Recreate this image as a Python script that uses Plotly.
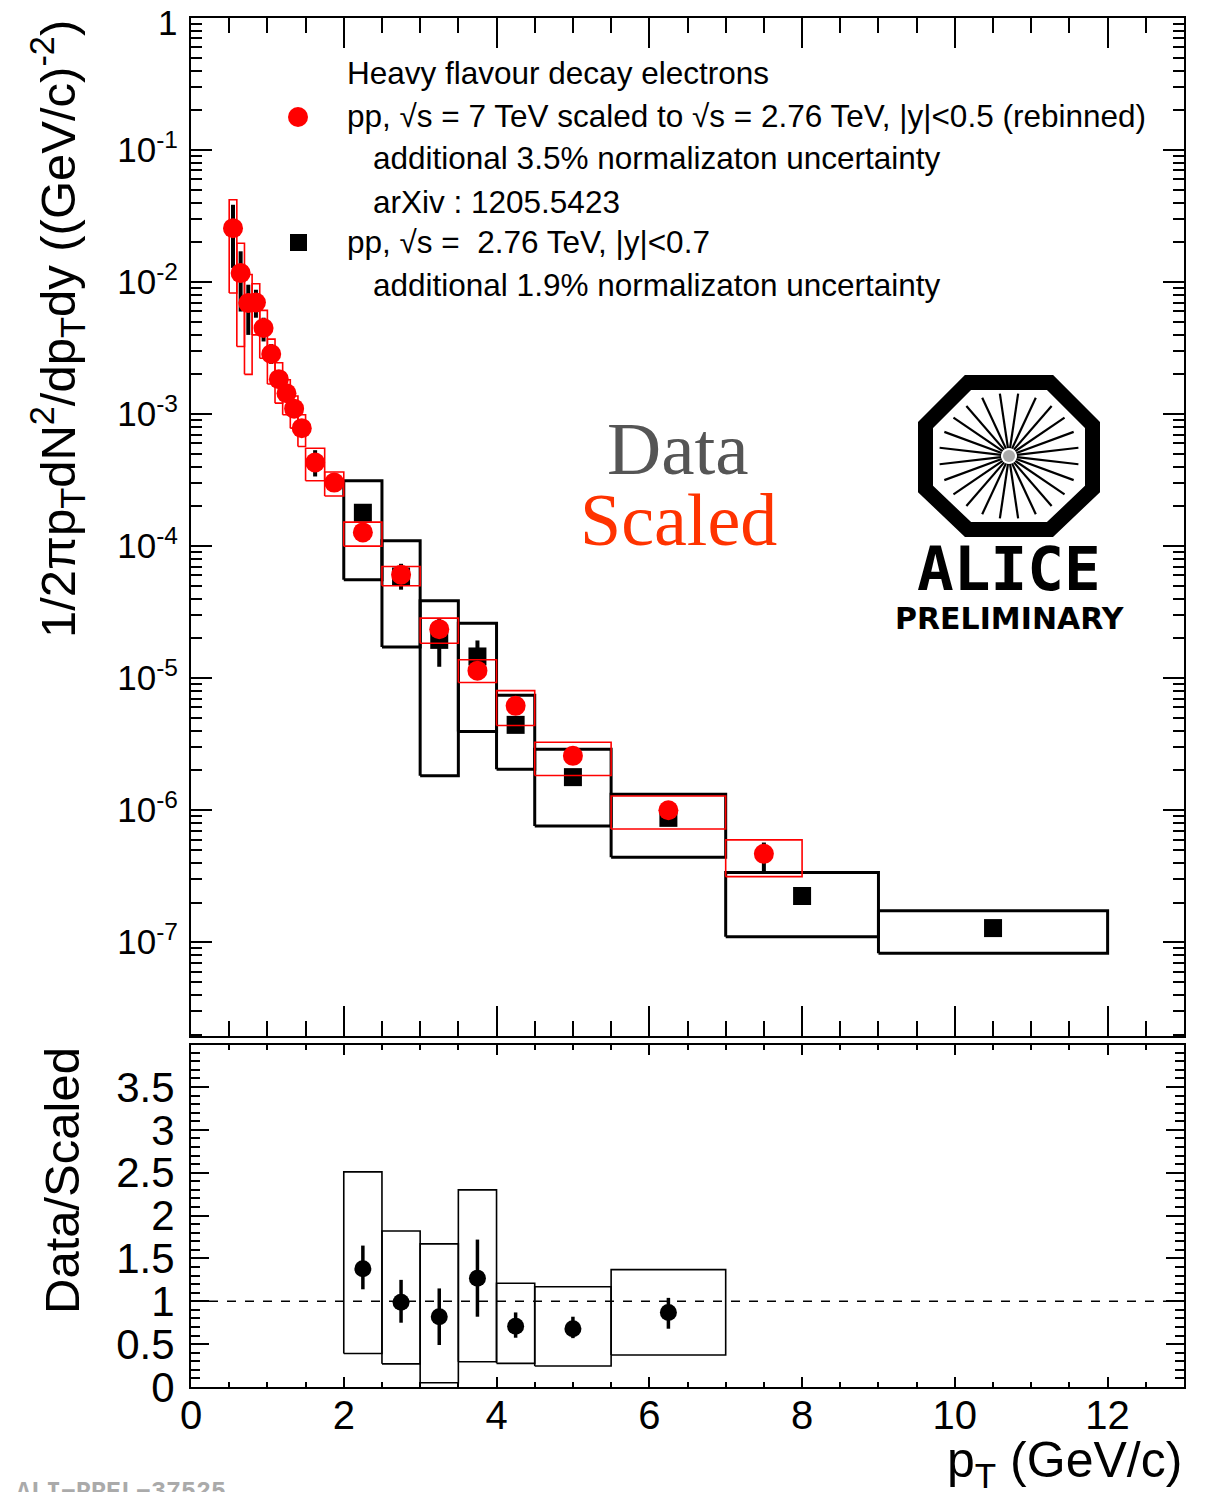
import math
import plotly.graph_objects as go

# ---------------- pp, sqrt(s) = 2.76 TeV, |y|<0.7 (black squares) ----------------
data_lo = [2.0, 2.5, 3.0, 3.5, 4.0, 4.5, 5.5, 7.0, 9.0]
data_hi = [2.5, 3.0, 3.5, 4.0, 4.5, 5.5, 7.0, 9.0, 12.0]
data_val = [1.79e-4, 5.89e-5, 1.95e-5, 1.46e-5, 4.43e-6, 1.78e-6, 8.75e-7, 2.24e-7, 1.28e-7]
data_stat_up = [1.95e-4, 7.35e-5, 2.80e-5, 1.93e-5, 5.0e-6, 1.95e-6, 9.6e-7, 2.4e-7, 1.38e-7]
data_stat_dn = [1.63e-4, 4.68e-5, 1.22e-5, 1.10e-5, 3.9e-6, 1.62e-6, 8.0e-7, 2.05e-7, 1.18e-7]
data_sys_up = [3.13e-4, 1.10e-4, 3.85e-5, 2.61e-5, 7.41e-6, 2.90e-6, 1.32e-6, 3.37e-7, 1.73e-7]
data_sys_dn = [5.56e-5, 1.72e-5, 1.82e-6, 3.94e-6, 2.04e-6, 7.59e-7, 4.41e-7, 1.10e-7, 8.26e-8]

# ------- pp, sqrt(s) = 7 TeV scaled to 2.76 TeV, |y|<0.5, rebinned (red circles) -------
ref_lo = [0.5, 0.6, 0.7, 0.8, 0.9, 1.0, 1.1, 1.2, 1.3, 1.4, 1.5, 1.75,
          2.0, 2.5, 3.0, 3.5, 4.0, 4.5, 5.5, 7.0]
ref_hi = [0.6, 0.7, 0.8, 0.9, 1.0, 1.1, 1.2, 1.3, 1.4, 1.5, 1.75, 2.0,
          2.5, 3.0, 3.5, 4.0, 4.5, 5.5, 7.0, 8.0]
ref_val = [2.56e-2, 1.17e-2, 6.93e-3, 7.00e-3, 4.49e-3, 2.85e-3, 1.84e-3, 1.44e-3,
           1.10e-3, 7.83e-4, 4.30e-4, 3.03e-4, 1.27e-4, 6.07e-5, 2.35e-5, 1.14e-5,
           6.17e-6, 2.58e-6, 1.00e-6, 4.67e-7]
ref_stat_up = [3.85e-2, 1.71e-2, 9.55e-3, 8.75e-3, 5.37e-3, 3.39e-3, 2.09e-3, 1.58e-3,
               1.20e-3, 8.50e-4, 5.33e-4, 3.20e-4, 1.33e-4, 6.6e-5, 2.5e-5, 1.2e-5,
               6.5e-6, 2.7e-6, 1.04e-6, 5.69e-7]
ref_stat_dn = [1.28e-2, 5.98e-3, 3.98e-3, 5.37e-3, 3.55e-3, 2.40e-3, 1.62e-3, 1.32e-3,
               1.00e-3, 7.24e-4, 3.37e-4, 2.85e-4, 1.21e-4, 5.5e-5, 2.2e-5, 1.08e-5,
               5.85e-6, 2.47e-6, 9.6e-7, 3.37e-7]
ref_sys_up = [4.20e-2, 1.97e-2, 1.14e-2, 9.70e-3, 6.10e-3, 3.70e-3, 2.45e-3, 1.82e-3,
              1.37e-3, 9.89e-4, 5.52e-4, 3.64e-4, 1.52e-4, 7.01e-5, 2.85e-5, 1.38e-5,
              8.05e-6, 3.27e-6, 1.28e-6, 5.96e-7]
ref_sys_dn = [8.26e-3, 3.25e-3, 2.00e-3, 3.98e-3, 2.65e-3, 1.69e-3, 1.21e-3, 9.89e-4,
              7.83e-4, 5.69e-4, 3.13e-4, 2.40e-4, 1.00e-4, 5.01e-5, 1.84e-5, 9.27e-6,
              4.38e-6, 1.83e-6, 7.21e-7, 3.14e-7]

# ---------------- Data / Scaled ratio ----------------
ratio_lo = [2.0, 2.5, 3.0, 3.5, 4.0, 4.5, 5.5]
ratio_hi = [2.5, 3.0, 3.5, 4.0, 4.5, 5.5, 7.0]
ratio_val = [1.38, 0.99, 0.82, 1.27, 0.71, 0.68, 0.87]
ratio_stat_up = [1.65, 1.25, 1.15, 1.72, 0.87, 0.82, 1.04]
ratio_stat_dn = [1.14, 0.75, 0.49, 0.82, 0.575, 0.57, 0.68]
ratio_sys_up = [2.51, 1.82, 1.67, 2.30, 1.21, 1.17, 1.37]
ratio_sys_dn = [0.39, 0.27, 0.05, 0.295, 0.276, 0.245, 0.373]

decades = [-7, -6, -5, -4, -3, -2, -1, 0]
ratio_ticks = [0, 0.5, 1, 1.5, 2, 2.5, 3, 3.5]

FONT = "Liberation Sans, Arial, Helvetica, sans-serif"

# pixel frame of the plotting area (page pixels)
L, R, T, B = 191, 1184, 18, 1387


def px(x):
    return (x - L) / (R - L)


def py(y):
    return (B - y) / (B - T)


def centers(lo, hi):
    return [(a + b) / 2 for a, b in zip(lo, hi)]


def box_path(lo, hi, ydn, yup):
    xs, ys = [], []
    for a, b, c, d in zip(lo, hi, ydn, yup):
        xs += [a, b, b, a, a, None]
        ys += [c, c, d, d, c, None]
    return xs, ys


def err(val, up, dn):
    return ([u - v for u, v in zip(up, val)], [v - d for v, d in zip(val, dn)])


fig = go.Figure()

# systematic boxes of the measurement
bx, by = box_path(data_lo, data_hi, data_sys_dn, data_sys_up)
fig.add_trace(go.Scatter(x=bx, y=by, mode="lines", line=dict(color="black", width=3),
                         xaxis="x", yaxis="y", hoverinfo="skip", showlegend=False))
eu, ed = err(data_val, data_stat_up, data_stat_dn)
fig.add_trace(go.Scatter(
    x=centers(data_lo, data_hi), y=data_val, mode="markers",
    marker=dict(symbol="square", size=18, color="black"),
    error_y=dict(type="data", array=eu, arrayminus=ed, color="black", thickness=4, width=0),
    xaxis="x", yaxis="y", showlegend=False))

# scaled reference
rx, ry = box_path(ref_lo, ref_hi, ref_sys_dn, ref_sys_up)
fig.add_trace(go.Scatter(x=rx, y=ry, mode="lines", line=dict(color="#ff0000", width=1.6),
                         xaxis="x", yaxis="y", hoverinfo="skip", showlegend=False))
eu, ed = err(ref_val, ref_stat_up, ref_stat_dn)
fig.add_trace(go.Scatter(
    x=centers(ref_lo, ref_hi), y=ref_val, mode="markers",
    marker=dict(symbol="circle", size=20, color="#ff0000"),
    error_y=dict(type="data", array=eu, arrayminus=ed, color="black", thickness=4, width=0),
    xaxis="x", yaxis="y", showlegend=False))

# ratio panel
qx, qy = box_path(ratio_lo, ratio_hi, ratio_sys_dn, ratio_sys_up)
fig.add_trace(go.Scatter(x=qx, y=qy, mode="lines", line=dict(color="black", width=1.6),
                         xaxis="x2", yaxis="y2", hoverinfo="skip", showlegend=False))
eu, ed = err(ratio_val, ratio_stat_up, ratio_stat_dn)
fig.add_trace(go.Scatter(
    x=centers(ratio_lo, ratio_hi), y=ratio_val, mode="markers",
    marker=dict(symbol="circle", size=17, color="black"),
    error_y=dict(type="data", array=eu, arrayminus=ed, color="black", thickness=3.5, width=0),
    xaxis="x2", yaxis="y2", showlegend=False))

axis_common = dict(showline=True, linewidth=2, linecolor="black", mirror="allticks",
                   ticks="inside", tickcolor="black", showgrid=False, zeroline=False,
                   automargin=False, ticklabeloverflow="allow")

minor_log = [k * 10.0 ** e for e in range(-8, 0) for k in range(2, 10)]

fig.update_layout(
    width=1209, height=1492,
    margin=dict(l=L, r=1209 - R, t=T, b=1492 - B, autoexpand=False),
    paper_bgcolor="white", plot_bgcolor="white",
    font=dict(family=FONT, color="black"),
    xaxis=dict(domain=[0, 1], anchor="y", range=[0, 13], tick0=0, dtick=2,
               ticklen=30, tickwidth=1.5, showticklabels=False,
               minor=dict(ticks="inside", dtick=0.5, ticklen=15, tickwidth=1.5,
                          tickcolor="black", showgrid=False),
               **axis_common),
    yaxis=dict(domain=[0.2564, 1], anchor="x", type="log", range=[-7.71, 0],
               tickmode="array", tickvals=[10.0 ** d for d in decades],
               # the top decade label "1" is placed separately, a little below its tick
               ticktext=["" if d == 0 else "10<sup>%d</sup>" % d for d in decades],
               ticklen=21, tickwidth=1.5, tickfont=dict(size=35),
               ticklabelstandoff=4,
               minor=dict(ticks="inside", tickmode="array", tickvals=minor_log,
                          ticklen=11, tickwidth=1.5, tickcolor="black", showgrid=False),
               **axis_common),
    xaxis2=dict(domain=[0, 1], anchor="y2", range=[0, 13], tick0=0, dtick=2,
                ticklen=10, tickwidth=1.5, tickfont=dict(size=40),
                ticklabelstandoff=-8,
                minor=dict(ticks="inside", dtick=0.5, ticklen=5, tickwidth=1.5,
                           tickcolor="black", showgrid=False),
                **axis_common),
    yaxis2=dict(domain=[0, 0.2498], anchor="x2", range=[0, 3.99],
                tickmode="array", tickvals=ratio_ticks,
                ticktext=["%g" % v for v in ratio_ticks],
                ticklen=18, tickwidth=1.5, tickfont=dict(size=42),
                ticklabelstandoff=6,
                minor=dict(ticks="inside", dtick=0.1, ticklen=9, tickwidth=1.5,
                           tickcolor="black", showgrid=False),
                **axis_common),
)

# unity line in the ratio panel
fig.add_shape(type="line", xref="x2 domain", yref="y2", x0=0, x1=1, y0=1, y1=1,
              line=dict(color="black", width=1.5, dash="dash"))

annotations = []


def text(x, y, s, size, xanchor="left", yanchor="middle", color="black", family=FONT, angle=0):
    annotations.append(dict(xref="paper", yref="paper", x=px(x), y=py(y), text=s,
                            showarrow=False, xanchor=xanchor, yanchor=yanchor,
                            textangle=angle, font=dict(size=size, color=color, family=family)))


# top decade label of the spectrum axis
text(179, 22, "1", 35, xanchor="right")

# legend block
LEG = 31.5
text(345, 73, "Heavy flavour decay electrons", LEG)
text(345, 116, "pp, √s = 7 TeV scaled to √s = 2.76 TeV, |y|&lt;0.5 (rebinned)", LEG)
text(371, 158, "additional 3.5% normalizaton uncertainty", LEG)
text(371, 202, "arXiv : 1205.5423", LEG)
text(345, 242, "pp, √s =  2.76 TeV, |y|&lt;0.7", LEG)
text(371, 285, "additional 1.9% normalizaton uncertainty", LEG)
fig.add_shape(type="circle", xref="paper", yref="paper",
              x0=px(288), x1=px(308), y0=py(107), y1=py(127),
              fillcolor="#ff0000", line=dict(width=0))
fig.add_shape(type="rect", xref="paper", yref="paper",
              x0=px(290), x1=px(307), y0=py(234), y1=py(251),
              fillcolor="black", line=dict(width=0))

# Data / Scaled labels
SERIF = "Liberation Serif, Times New Roman, serif"
text(678, 448, "Data", 75, xanchor="center", color="#555555", family=SERIF)
text(678, 520, "Scaled", 74, xanchor="center", color="#ff3300", family=SERIF)

# axis titles
text(57, 18, "1/2πp<sub>T</sub>dN<sup>2</sup>/dp<sub>T</sub>dy ((GeV/c)<sup>-2</sup>)", 49,
     xanchor="center", yanchor="top", angle=-90)
text(62, 1181, "Data/Scaled", 49, xanchor="center", angle=-90)
text(1184, 1497, "p<sub>T</sub> (GeV/c)", 50, xanchor="right", yanchor="bottom")

# ALICE logo
cx, cy = 1009, 456
octagon = [(968, 382.5), (1050, 382.5), (1092.5, 425), (1092.5, 489),
           (1050, 529.5), (968, 529.5), (925.5, 489), (925.5, 425)]
path = "M " + " L ".join("%f,%f" % (px(a), py(b)) for a, b in octagon) + " Z"
fig.add_shape(type="path", xref="paper", yref="paper", path=path,
              line=dict(color="black", width=15), fillcolor="rgba(0,0,0,0)")
for k in range(24):
    ang = math.radians(k * 15 + 7.5)
    r0, rx_, ry_ = 8, 70, 63
    fig.add_shape(type="line", xref="paper", yref="paper",
                  x0=px(cx + r0 * math.cos(ang)), y0=py(cy - r0 * math.sin(ang)),
                  x1=px(cx + rx_ * math.cos(ang)), y1=py(cy - ry_ * math.sin(ang)),
                  line=dict(color="black", width=2.2))
fig.add_shape(type="circle", xref="paper", yref="paper",
              x0=px(cx - 6), x1=px(cx + 6), y0=py(cy + 6), y1=py(cy - 6),
              fillcolor="#aaaaaa", line=dict(width=0))
text(1009, 569, "<b>ALICE</b>", 61, xanchor="center",
     family="DejaVu Sans Mono, Liberation Mono, monospace")
text(1010, 618, "<b>PRELIMINARY</b>", 30, xanchor="center",
     family="DejaVu Sans, Liberation Sans, sans-serif")

# preliminary figure id
text(14, 1476, "<b>ALI−PREL−37525</b>", 25, yanchor="top", color="#aaaaaa",
     family="Liberation Mono, Courier New, monospace")

fig.update_layout(annotations=annotations)
fig.write_html("out.html")
